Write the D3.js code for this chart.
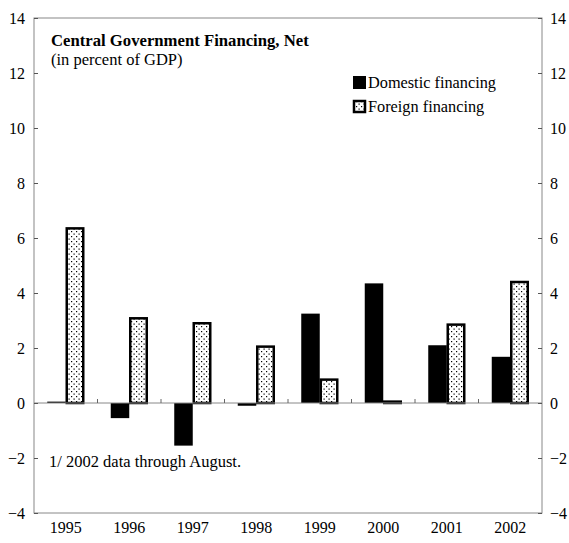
<!DOCTYPE html>
<html><head><meta charset="utf-8">
<script src="https://cdn.jsdelivr.net/npm/d3@7"></script>
<style>body{margin:0;background:#fff}svg{display:block}text{font-family:"Liberation Serif","Times New Roman",serif;fill:#000}</style>
</head><body>
<script>
const years = ["1995","1996","1997","1998","1999","2000","2001","2002"];
const domestic = [0.05,-0.55,-1.55,-0.1,3.25,4.35,2.1,1.68];
const foreign = [6.35,3.08,2.9,2.05,0.85,0.05,2.85,4.4];
const yTicks = [-4,-2,0,2,4,6,8,10,12,14];
const seriesNames = ["Domestic financing","Foreign financing"];

const W=569,H=543;
const svg=d3.select("body").append("svg").attr("width",W).attr("height",H);
const defs=svg.append("defs");
const pat=defs.append("pattern").attr("id","dots").attr("patternUnits","userSpaceOnUse").attr("width",5).attr("height",5);
pat.append("rect").attr("width",5).attr("height",5).attr("fill","#fff");
pat.append("rect").attr("x",1).attr("y",1).attr("width",1.2).attr("height",1.2).attr("fill","#000");
pat.append("rect").attr("x",3.5).attr("y",3.5).attr("width",1.2).attr("height",1.2).attr("fill","#000");

const x=d3.scaleBand().domain(years).range([34,542]);
const y=d3.scaleLinear().domain([-4,14]).range([513,18]);
const bw=18.5;

// frame
svg.append("rect").attr("x",34).attr("y",18).attr("width",508).attr("height",495).attr("fill","none").attr("stroke","#888").attr("stroke-width",1);

// bars
const g=svg.append("g");
g.selectAll(".dom").data(years).join("rect")
 .attr("x",d=>x(d)+x.bandwidth()/2-bw)
 .attr("y",(d,i)=>y(Math.max(0,domestic[i])))
 .attr("width",bw)
 .attr("height",(d,i)=>Math.abs(y(domestic[i])-y(0)))
 .attr("fill","#000");
g.selectAll(".for").data(years).join("rect")
 .attr("x",d=>x(d)+x.bandwidth()/2+1)
 .attr("y",(d,i)=>y(Math.max(0,foreign[i])))
 .attr("width",bw-2)
 .attr("height",(d,i)=>Math.abs(y(foreign[i])-y(0)))
 .attr("fill","url(#dots)").attr("stroke","#000").attr("stroke-width",2.5);

// zero line
svg.append("line").attr("x1",34).attr("x2",542).attr("y1",y(0)).attr("y2",y(0)).attr("stroke","#888").attr("stroke-width",1);
svg.selectAll(".xt").data(years.slice(1)).join("line")
 .attr("x1",d=>x(d)).attr("x2",d=>x(d)).attr("y1",y(0)).attr("y2",y(0)-4).attr("stroke","#666");

// y axes
const yl=d3.axisLeft(y).tickValues(yTicks).tickSize(-4).tickPadding(9).tickFormat(d3.format("d"));
const gl=svg.append("g").attr("transform","translate(34,0)").call(yl);
const yr=d3.axisRight(y).tickValues(yTicks).tickSize(-4).tickPadding(8).tickFormat(d3.format("d"));
const gr=svg.append("g").attr("transform","translate(542,0)").call(yr);
[gl,gr].forEach(a=>{a.select(".domain").remove();a.selectAll("line").attr("stroke","#555");a.selectAll("text").attr("font-size",16).attr("font-family","Liberation Serif").attr("fill","#000");});

// x labels
svg.selectAll(".xl").data(years).join("text")
 .attr("x",d=>x(d)+x.bandwidth()/2).attr("y",533).attr("text-anchor","middle").attr("font-size",16).text(d=>d);

// titles
svg.append("text").attr("x",51).attr("y",46).attr("font-size",16.7).attr("font-weight","bold").text("Central Government Financing, Net");
svg.append("text").attr("x",51).attr("y",65).attr("font-size",16.5).text("(in percent of GDP)");

// legend
const lg=svg.append("g");
seriesNames.forEach((n,i)=>{
  const yy=88+i*24;
  lg.append("rect").attr("x",i?354:353).attr("y",i?yy-11:yy-12).attr("width",i?11:13).attr("height",i?11:13)
    .attr("fill",i?"url(#dots)":"#000").attr("stroke","#000").attr("stroke-width",i?2.5:0);
  lg.append("text").attr("x",368).attr("y",yy).attr("font-size",16.3).text(n);
});

// note
svg.append("text").attr("x",49).attr("y",467).attr("font-size",16.5).text("1/ 2002 data through August.");
</script>
</body></html>
